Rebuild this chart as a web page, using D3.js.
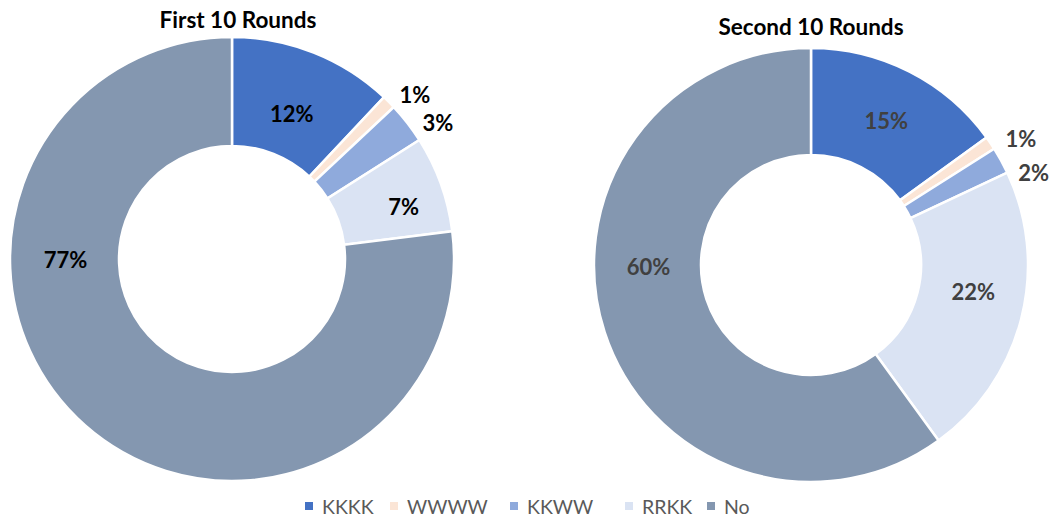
<!DOCTYPE html>
<html><head><meta charset="utf-8">
<script src="https://cdn.jsdelivr.net/npm/d3@7"></script>
<style>body{margin:0;background:#fff}svg{display:block}</style>
</head><body>
<svg id="c" width="1054" height="520"></svg>
<script>
const categories = ["KKKK","WWWW","KKWW","RRKK","No"];
const firstValues = [12,1,3,7,77];
const secondValues = [15,1,2,22,60];
const chartTitles = ["First 10 Rounds","Second 10 Rounds"];
const colors = ["#4472C4","#FBE5D6","#8FAADC","#DAE3F3","#8497B0"];

const svg = d3.select("#c");
const font = "Lato, 'Open Sans', sans-serif";

// layout config (label nudges are small pixel tweaks from default label spots)
const charts = [
  {values: firstValues, title: chartTitles[0], cx: 232, cy: 259, R: 222, r: 113, titleX: 238, titleY: 28, labelColor: "#000",
   nudge: [[-2,10],[-2,-1],[2,3],[14,4],[0,0]]},
  {values: secondValues, title: chartTitles[1], cx: 811, cy: 265, R: 217, r: 110, titleX: 811, titleY: 35, labelColor: "#404040",
   nudge: [[1,1],[2,-3],[4,11],[4,-14],[0,1]]}
];

const pie = d3.pie().sort(null).value(d => d).startAngle(0).endAngle(2*Math.PI);
const color = d3.scaleOrdinal().domain(categories).range(colors);

charts.forEach(ch => {
  const g = svg.append("g").attr("transform", `translate(${ch.cx},${ch.cy})`);
  const arcs = pie(ch.values);
  const arc = d3.arc().innerRadius(ch.r).outerRadius(ch.R);
  g.selectAll("path").data(arcs).join("path")
    .attr("d", arc)
    .attr("fill", (d,i) => color(categories[i]))
    .attr("stroke", "#fff").attr("stroke-width", 2.5).attr("stroke-linejoin","miter");

  const midR = (ch.R + ch.r) / 2;
  const inArc = d3.arc().innerRadius(midR).outerRadius(midR);
  const total = d3.sum(ch.values);
  arcs.forEach((d,i) => {
    let pos;
    if (d.data / total > 0.5) {
      const a = 1.5*Math.PI;
      pos = [Math.sin(a)*(midR - 1), -Math.cos(a)*(midR-1)];
    } else if (d.data < 5) {
      const a = (d.startAngle + d.endAngle)/2 + 0.06;
      const rr = ch.R + 25;
      pos = [Math.sin(a)*rr, -Math.cos(a)*rr];
    } else {
      pos = inArc.centroid(d);
    }
    pos = [pos[0] + ch.nudge[i][0], pos[1] + ch.nudge[i][1]];
    g.append("text")
      .attr("x", pos[0]).attr("y", pos[1])
      .attr("text-anchor","middle").attr("dominant-baseline","central")
      .attr("font-family", font).attr("font-weight","bold").attr("font-size", 22)
      .attr("fill", ch.labelColor)
      .text(d.data + "%");
  });

  svg.append("text")
    .attr("x", ch.titleX).attr("y", ch.titleY)
    .attr("text-anchor","middle")
    .attr("font-family", font).attr("font-weight","bold").attr("font-size", 22.5)
    .attr("fill","#000")
    .text(ch.title);
});

// legend
const legendStarts = [305, 390, 510, 625, 707];
const lg = svg.append("g");
categories.forEach((c,i) => {
  const it = lg.append("g").attr("transform", `translate(${legendStarts[i]},506)`);
  it.append("rect").attr("x",0).attr("y",-4).attr("width",8).attr("height",8).attr("fill", colors[i]);
  it.append("text").attr("x",17).attr("y",0).attr("dominant-baseline","central")
    .attr("font-family", font).attr("font-size", 19.5).attr("fill","#595959").text(c);
});
</script>
</body></html>
